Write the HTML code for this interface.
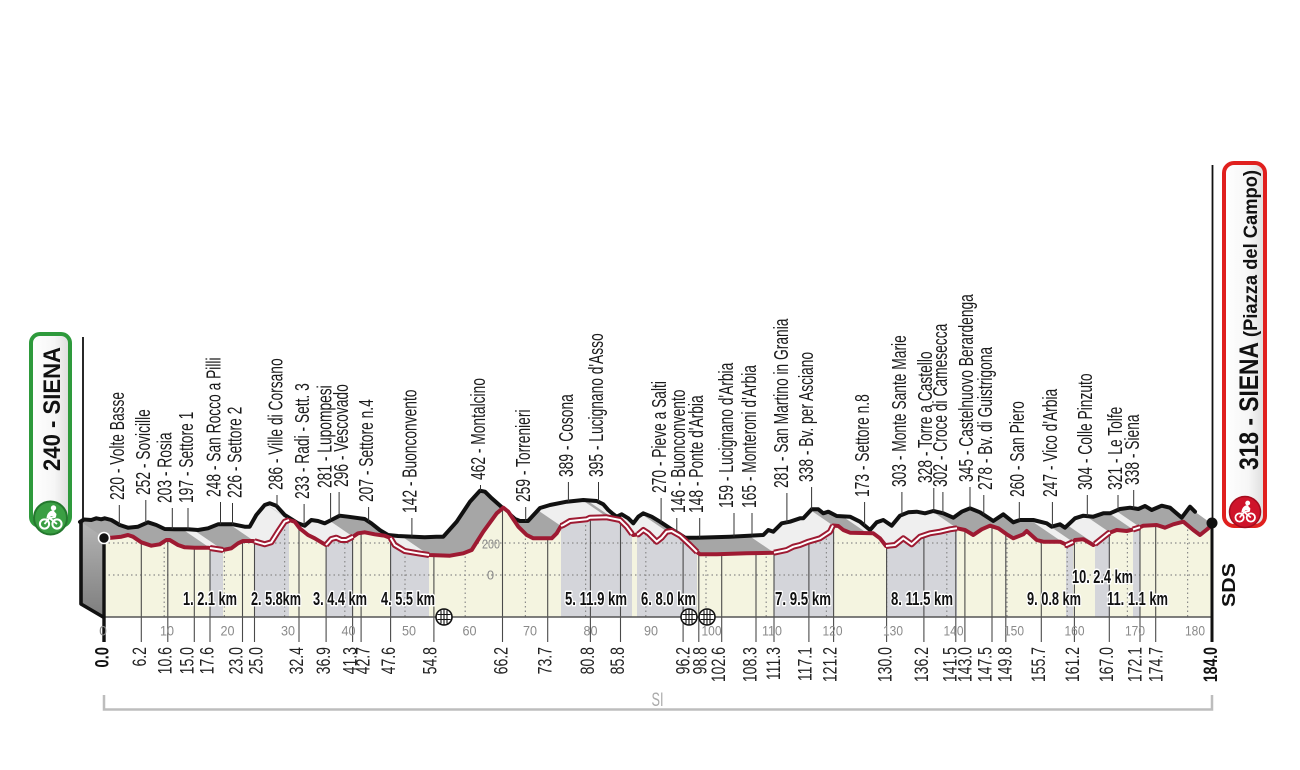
<!DOCTYPE html>
<html>
<head>
<meta charset="utf-8">
<style>
html,body{margin:0;padding:0;background:#fff;}
svg{display:block;}
text{font-family:"Liberation Sans",Arial,sans-serif;}
</style>
</head>
<body>
<svg width="1300" height="770" viewBox="0 0 1300 770" xmlns="http://www.w3.org/2000/svg">
<defs>
  <clipPath id="plotclip">
    <polygon points="104,537.7 111.3,537.7 121.3,536.7 128,535 133,536.7 141.3,542.3 151.3,545.7 159.7,544.3 166.3,540 169.7,540 178,545 184.7,547.3 194.7,547.7 208,547.7 210,548 223,550 231.3,548.3 238,543.3 243,541 253,541 254.5,541.3 264.7,544.3 271.3,542.3 278,531.7 284.7,521.7 289,520 294.7,521.7 299.7,528.3 308,535 314.7,538.3 323,543.3 326,545 331.3,539 336.3,537.7 341.3,540 346.3,540 353,536.7 358,533.3 364.7,532.3 374.7,534.3 384.7,535.7 390.6,538 394.7,545 404.7,551 418,553.3 429,555 450,555.7 463.3,553.3 471.7,550 483.3,531.7 496.7,513.3 503.3,507.7 508.3,511.7 518.3,526.7 526.7,535 533.3,538.3 551.7,538.3 556.7,533.3 561,526 563.3,525 570,521 586.7,519.3 590,517.7 606.7,517.3 620,520 626.7,526.7 632,534 633.3,535 637,534.5 638.3,534.3 643.3,530 648.3,533.3 656.7,541.7 661.7,537.7 666.7,531.7 671.7,531 680,535.7 690,545 697,552 700,554.3 716.7,554.3 746.7,553.3 774,552.7 786.7,550 793.3,546.7 800,545 808.3,541.7 820,538.3 830,531.7 833,525.5 838.3,526 843.3,530 850,532.7 873.3,533.3 880,538.3 886,546 895,545 903.3,538.3 911.7,544.3 920,536.7 930,533.3 940,531.7 950,529.3 957,528.3 965,530 973.3,535 981.7,529.3 990,525.7 998.3,528.3 1006.7,534.3 1013.3,538.3 1023.3,534.3 1026.7,531 1036.7,540 1043.3,541.7 1060,541.7 1066,544.5 1066.7,545 1073,542 1075,540 1083.3,539.3 1093.3,545 1095,544 1100,540 1108.3,533.3 1110,532.6 1116.7,530 1126.7,531 1133,529.5 1136.7,528.3 1140,527.2 1143.3,525.7 1156.7,525 1165,527.7 1173.3,524.3 1183.3,521.7 1193.3,530 1200,535 1208.3,528.3 1212,524 1212,617 104,617"/>
  </clipPath>
  <clipPath id="markclip">
    <polygon points="104,537.7 111.3,537.7 121.3,536.7 128,535 133,536.7 141.3,542.3 151.3,545.7 159.7,544.3 166.3,540 169.7,540 178,545 184.7,547.3 194.7,547.7 208,547.7 210,548 223,550 231.3,548.3 238,543.3 243,541 253,541 254.5,541.3 264.7,544.3 271.3,542.3 278,531.7 284.7,521.7 289,520 294.7,521.7 299.7,528.3 308,535 314.7,538.3 323,543.3 326,545 331.3,539 336.3,537.7 341.3,540 346.3,540 353,536.7 358,533.3 364.7,532.3 374.7,534.3 384.7,535.7 390.6,538 394.7,545 404.7,551 418,553.3 429,555 450,555.7 463.3,553.3 471.7,550 483.3,531.7 496.7,513.3 503.3,507.7 508.3,511.7 518.3,526.7 526.7,535 533.3,538.3 551.7,538.3 556.7,533.3 561,526 563.3,525 570,521 586.7,519.3 590,517.7 606.7,517.3 620,520 626.7,526.7 632,534 633.3,535 637,534.5 638.3,534.3 643.3,530 648.3,533.3 656.7,541.7 661.7,537.7 666.7,531.7 671.7,531 680,535.7 690,545 697,552 700,554.3 716.7,554.3 746.7,553.3 774,552.7 786.7,550 793.3,546.7 800,545 808.3,541.7 820,538.3 830,531.7 833,525.5 838.3,526 843.3,530 850,532.7 873.3,533.3 880,538.3 886,546 895,545 903.3,538.3 911.7,544.3 920,536.7 930,533.3 940,531.7 950,529.3 957,528.3 965,530 973.3,535 981.7,529.3 990,525.7 998.3,528.3 1006.7,534.3 1013.3,538.3 1023.3,534.3 1026.7,531 1036.7,540 1043.3,541.7 1060,541.7 1066,544.5 1066.7,545 1073,542 1075,540 1083.3,539.3 1093.3,545 1095,544 1100,540 1108.3,533.3 1110,532.6 1116.7,530 1126.7,531 1133,529.5 1136.7,528.3 1140,527.2 1143.3,525.7 1156.7,525 1165,527.7 1173.3,524.3 1183.3,521.7 1193.3,530 1200,535 1208.3,528.3 1212,524 1212,617 104,617"/>
    <rect x="100" y="616" width="1120" height="26"/>
  </clipPath>
  <clipPath id="surfclip">
    <polygon points="80,522 84,519.5 91.3,520 96.3,518.3 101.3,519.3 104.7,518.3 111.3,520 119.7,525 128,527.7 138,526.7 148,522.3 156.3,525 164.7,529 174.7,529.3 188,529.3 198,530 208,528.3 218,524.3 233,524.3 244.7,526.7 249.7,526.7 256.3,515 264.7,505 269.7,503.3 276.3,505.7 284.7,515 298,523.3 304.7,525.7 311.3,520 318,521 324.7,523.3 331.3,520 339.7,515.7 348,516.7 364.7,519 371.3,523.3 379.7,530 388,535 398,536 424.7,537.3 436.3,536.7 443.3,536.7 456.7,521.7 470,501.7 480,490.7 485,491.7 491.7,498.3 505,510 515,519 520,521 528,521 540,508 550,505 566.7,501.7 583.3,500 596.7,501 603.3,504.3 608.3,510 613,514 616.7,516.7 621.7,514.3 628.3,518.3 633.3,523.3 638.3,516.7 643.3,513.3 651.7,516.7 660,521.7 670,528.3 678.3,533.3 685,537.7 696.7,537.7 730,536.7 763.3,535 768.3,530 773.3,531.7 781.7,523.3 790,521.7 800,518.3 803.3,518.3 811.7,509.3 818.3,509.3 823.3,513.3 828.3,511.7 836.7,516 850,516.7 860,521.7 870,530 876.7,522.3 883.3,520 891.7,525.7 900,515.7 908.3,512.3 916.7,511.7 925,513.3 933.3,511 943.3,513.3 953.3,517.7 961.7,511.7 970,508.3 980,512.3 993.3,521 1003.3,514.3 1013.3,522.3 1020,520 1033.3,520 1046.7,523.3 1051.7,526.7 1060,524.3 1065,527.7 1075,518.3 1083.3,515.7 1093.3,516.7 1103.3,513.3 1110,513.3 1120,509 1130,507.7 1138.3,509 1145,506 1151.7,510 1161.7,505.7 1170,507.7 1181.7,517.7 1190,506.7 1195,511.7 1212,524 1212,617 104,617 81,604"/>
  </clipPath>
  <linearGradient id="face" x1="0" y1="0" x2="0" y2="1">
    <stop offset="0" stop-color="#b4b4b4"/>
    <stop offset="1" stop-color="#7e7e7e"/>
  </linearGradient>
  <linearGradient id="boxg" x1="0" y1="0" x2="1" y2="0">
    <stop offset="0" stop-color="#ffffff"/>
    <stop offset="0.6" stop-color="#f6f6f6"/>
    <stop offset="1" stop-color="#dcdcdc"/>
  </linearGradient>
  <g id="bike">
    <circle cx="-6" cy="5" r="4.6" fill="none" stroke="#fff" stroke-width="2"/>
    <circle cx="6.5" cy="5" r="4.6" fill="none" stroke="#fff" stroke-width="2"/>
    <path d="M-6,5 L-1,-1 L6.5,5 M-1,-1 L5,-2" fill="none" stroke="#fff" stroke-width="1.8"/>
    <path d="M-4,0 C-4,-6 0,-9 3,-8.5 L6,-5 L5.5,-2 L1,-3 Z" fill="#fff"/>
    <circle cx="3" cy="-11" r="2.7" fill="#fff"/>
  </g>
  <g id="rail">
    <circle r="8" fill="#fff" stroke="#111" stroke-width="1.6"/>
    <path d="M-3,-6.5V6.5M0,-7.5V7.5M3,-6.5V6.5M-6.5,-2.5H6.5M-6.5,2.5H6.5" stroke="#111" stroke-width="1.1"/>
  </g>
</defs>

<!-- surface (3D top) -->
<polygon fill="#a6a6a6" points="80,522 84,519.5 91.3,520 96.3,518.3 101.3,519.3 104.7,518.3 111.3,520 119.7,525 128,527.7 138,526.7 148,522.3 156.3,525 164.7,529 174.7,529.3 188,529.3 198,530 208,528.3 218,524.3 233,524.3 244.7,526.7 249.7,526.7 256.3,515 264.7,505 269.7,503.3 276.3,505.7 284.7,515 298,523.3 304.7,525.7 311.3,520 318,521 324.7,523.3 331.3,520 339.7,515.7 348,516.7 364.7,519 371.3,523.3 379.7,530 388,535 398,536 424.7,537.3 436.3,536.7 443.3,536.7 456.7,521.7 470,501.7 480,490.7 485,491.7 491.7,498.3 505,510 515,519 520,521 528,521 540,508 550,505 566.7,501.7 583.3,500 596.7,501 603.3,504.3 608.3,510 613,514 616.7,516.7 621.7,514.3 628.3,518.3 633.3,523.3 638.3,516.7 643.3,513.3 651.7,516.7 660,521.7 670,528.3 678.3,533.3 685,537.7 696.7,537.7 730,536.7 763.3,535 768.3,530 773.3,531.7 781.7,523.3 790,521.7 800,518.3 803.3,518.3 811.7,509.3 818.3,509.3 823.3,513.3 828.3,511.7 836.7,516 850,516.7 860,521.7 870,530 876.7,522.3 883.3,520 891.7,525.7 900,515.7 908.3,512.3 916.7,511.7 925,513.3 933.3,511 943.3,513.3 953.3,517.7 961.7,511.7 970,508.3 980,512.3 993.3,521 1003.3,514.3 1013.3,522.3 1020,520 1033.3,520 1046.7,523.3 1051.7,526.7 1060,524.3 1065,527.7 1075,518.3 1083.3,515.7 1093.3,516.7 1103.3,513.3 1110,513.3 1120,509 1130,507.7 1138.3,509 1145,506 1151.7,510 1161.7,505.7 1170,507.7 1181.7,517.7 1190,506.7 1195,511.7 1212,524 1212,617 104,617 81,604"/>
<g clip-path="url(#surfclip)" fill="#efefef">
  <polygon points="254,578 267,580 157,505 144,503"/>
  <polygon points="298.5,571.3 333,550 223,475 188.5,496.3"/>
  <polygon points="370,575 397,566.7 287,491.7 260,500"/>
  <polygon points="434.6,568 473,585 363,510 324.6,493"/>
  <polygon points="605,556 676,564 566,489 495,481"/>
  <polygon points="681,564.5 741,582 631,507 571,489.5"/>
  <polygon points="818,582.7 877,555.5 767,480.5 708,507.7"/>
  <polygon points="930,576 1001,558.3 891,483.3 820,501"/>
  <polygon points="1110,574.5 1117,572 1007,497 1000,499.5"/>
  <polygon points="1139,574 1154,562.6 1044,487.6 1029,499"/>
  <polygon points="1177,559.5 1184,557.2 1074,482.2 1067,484.5"/>
</g>
<!-- black ridge line -->
<polyline fill="none" stroke="#111" stroke-width="4" stroke-linejoin="round" stroke-linecap="round" points="80,522 84,519.5 91.3,520 96.3,518.3 101.3,519.3 104.7,518.3 111.3,520 119.7,525 128,527.7 138,526.7 148,522.3 156.3,525 164.7,529 174.7,529.3 188,529.3 198,530 208,528.3 218,524.3 233,524.3 244.7,526.7 249.7,526.7 256.3,515 264.7,505 269.7,503.3 276.3,505.7 284.7,515 298,523.3 304.7,525.7 311.3,520 318,521 324.7,523.3 331.3,520 339.7,515.7 348,516.7 364.7,519 371.3,523.3 379.7,530 388,535 398,536 424.7,537.3 436.3,536.7 443.3,536.7 456.7,521.7 470,501.7 480,490.7 485,491.7 491.7,498.3 505,510 515,519 520,521 528,521 540,508 550,505 566.7,501.7 583.3,500 596.7,501 603.3,504.3 608.3,510 613,514 616.7,516.7 621.7,514.3 628.3,518.3 633.3,523.3 638.3,516.7 643.3,513.3 651.7,516.7 660,521.7 670,528.3 678.3,533.3 685,537.7 696.7,537.7 730,536.7 763.3,535 768.3,530 773.3,531.7 781.7,523.3 790,521.7 800,518.3 803.3,518.3 811.7,509.3 818.3,509.3 823.3,513.3 828.3,511.7 836.7,516 850,516.7 860,521.7 870,530 876.7,522.3 883.3,520 891.7,525.7 900,515.7 908.3,512.3 916.7,511.7 925,513.3 933.3,511 943.3,513.3 953.3,517.7 961.7,511.7 970,508.3 980,512.3 993.3,521 1003.3,514.3 1013.3,522.3 1020,520 1033.3,520 1046.7,523.3 1051.7,526.7 1060,524.3 1065,527.7 1075,518.3 1083.3,515.7 1093.3,516.7 1103.3,513.3 1110,513.3 1120,509 1130,507.7 1138.3,509 1145,506 1151.7,510 1161.7,505.7 1170,507.7 1181.7,517.7 1190,506.7 1195,511.7"/>

<!-- plot area -->
<rect x="100" y="480" width="1115" height="140" fill="#f4f4e0" clip-path="url(#plotclip)"/>
<g clip-path="url(#plotclip)" fill="#d4d5da">
  <rect x="210" y="480" width="13" height="140"/>
  <rect x="254.5" y="480" width="34.5" height="140"/>
  <rect x="326" y="480" width="27" height="140"/>
  <rect x="390.6" y="480" width="38.4" height="140"/>
  <rect x="561" y="480" width="71" height="140"/>
  <rect x="637" y="480" width="60" height="140"/>
  <rect x="774" y="480" width="59" height="140"/>
  <rect x="886" y="480" width="71" height="140"/>
  <rect x="1066" y="480" width="7" height="140"/>
  <rect x="1095" y="480" width="15" height="140"/>
  <rect x="1133" y="480" width="7" height="140"/>
</g>
<!-- dotted grid -->
<g clip-path="url(#plotclip)" stroke="#8a8a8a" stroke-width="1.2" stroke-dasharray="1.5 3" fill="none">
  <path d="M104,543H1212M104,575H1212"/>
  <path d="M164.2,480V617M224.4,480V617M284.6,480V617M344.8,480V617M405,480V617M465.2,480V617M525.4,480V617M585.6,480V617M645.8,480V617M706,480V617M766.2,480V617M826.4,480V617M886.6,480V617M946.8,480V617M1007,480V617M1067.2,480V617M1127.4,480V617M1187.6,480V617"/>
</g>
<text x="491" y="548.5" font-size="13" fill="#888" text-anchor="middle" textLength="18" lengthAdjust="spacingAndGlyphs">200</text>
<text x="490.5" y="579.5" font-size="13" fill="#888" text-anchor="middle">0</text>
<!-- marker lines -->
<g clip-path="url(#markclip)" stroke="#4a4a4a" stroke-width="1.1">
  <path d="M141.3,480V642M167.8,480V642M194.3,480V642M210,480V642M242.5,480V642M254.5,480V642M299,480V642M326.1,480V642M352.6,480V642M361.1,480V642M390.6,480V642M433.9,480V642M502.5,480V642M547.7,480V642M590.4,480V642M620.5,480V642M683.1,480V642M698.8,480V642M721.7,480V642M756,480V642M774,480V642M808.9,480V642M833.6,480V642M886.6,480V642M923.9,480V642M955.8,480V642M964.9,480V642M992,480V642M1005.8,480V642M1041.3,480V642M1074.4,480V642M1109.3,480V642M1140,480V642M1155.7,480V642"/>
</g>
<path d="M104,617H1212" stroke="#555" stroke-width="1.5"/>

<!-- red profile -->
<polyline fill="none" stroke="#9e1a32" stroke-width="4" stroke-linejoin="round" stroke-linecap="round" points="104,537.7 111.3,537.7 121.3,536.7 128,535 133,536.7 141.3,542.3 151.3,545.7 159.7,544.3 166.3,540 169.7,540 178,545 184.7,547.3 194.7,547.7 208,547.7 210,548 223,550 231.3,548.3 238,543.3 243,541 253,541 254.5,541.3 264.7,544.3 271.3,542.3 278,531.7 284.7,521.7 289,520 294.7,521.7 299.7,528.3 308,535 314.7,538.3 323,543.3 326,545 331.3,539 336.3,537.7 341.3,540 346.3,540 353,536.7 358,533.3 364.7,532.3 374.7,534.3 384.7,535.7 390.6,538 394.7,545 404.7,551 418,553.3 429,555 450,555.7 463.3,553.3 471.7,550 483.3,531.7 496.7,513.3 503.3,507.7 508.3,511.7 518.3,526.7 526.7,535 533.3,538.3 551.7,538.3 556.7,533.3 561,526 563.3,525 570,521 586.7,519.3 590,517.7 606.7,517.3 620,520 626.7,526.7 632,534 633.3,535 637,534.5 638.3,534.3 643.3,530 648.3,533.3 656.7,541.7 661.7,537.7 666.7,531.7 671.7,531 680,535.7 690,545 697,552 700,554.3 716.7,554.3 746.7,553.3 774,552.7 786.7,550 793.3,546.7 800,545 808.3,541.7 820,538.3 830,531.7 833,525.5 838.3,526 843.3,530 850,532.7 873.3,533.3 880,538.3 886,546 895,545 903.3,538.3 911.7,544.3 920,536.7 930,533.3 940,531.7 950,529.3 957,528.3 965,530 973.3,535 981.7,529.3 990,525.7 998.3,528.3 1006.7,534.3 1013.3,538.3 1023.3,534.3 1026.7,531 1036.7,540 1043.3,541.7 1060,541.7 1066,544.5 1066.7,545 1073,542 1075,540 1083.3,539.3 1093.3,545 1095,544 1100,540 1108.3,533.3 1110,532.6 1116.7,530 1126.7,531 1133,529.5 1136.7,528.3 1140,527.2 1143.3,525.7 1156.7,525 1165,527.7 1173.3,524.3 1183.3,521.7 1193.3,530 1200,535 1208.3,528.3 1212,524"/>
<g fill="none" stroke="#9e1a32" stroke-width="6" stroke-linejoin="round">
  <polyline points="210,548 223,550"/>
  <polyline points="254.5,541.3 264.7,544.3 271.3,542.3 278,531.7 284.7,521.7 289,520"/>
  <polyline points="326,545 331.3,539 336.3,537.7 341.3,540 346.3,540 353,536.7"/>
  <polyline points="390.6,538 394.7,545 404.7,551 418,553.3 429,555"/>
  <polyline points="561,526 563.3,525 570,521 586.7,519.3 590,517.7 606.7,517.3 620,520 626.7,526.7 632,534"/>
  <polyline points="637,534.5 638.3,534.3 643.3,530 648.3,533.3 656.7,541.7 661.7,537.7 666.7,531.7 671.7,531 680,535.7 690,545 697,552"/>
  <polyline points="774,552.7 786.7,550 793.3,546.7 800,545 808.3,541.7 820,538.3 830,531.7 833,525.5"/>
  <polyline points="886,546 895,545 903.3,538.3 911.7,544.3 920,536.7 930,533.3 940,531.7 950,529.3 957,528.3"/>
  <polyline points="1066,544.5 1066.7,545 1073,542"/>
  <polyline points="1095,544 1100,540 1108.3,533.3 1110,532.6"/>
  <polyline points="1133,529.5 1136.7,528.3 1140,527.2"/>
</g>
<g fill="none" stroke="#ffffff" stroke-width="2" stroke-linejoin="round">
  <polyline points="210,548 223,550"/>
  <polyline points="254.5,541.3 264.7,544.3 271.3,542.3 278,531.7 284.7,521.7 289,520"/>
  <polyline points="326,545 331.3,539 336.3,537.7 341.3,540 346.3,540 353,536.7"/>
  <polyline points="390.6,538 394.7,545 404.7,551 418,553.3 429,555"/>
  <polyline points="561,526 563.3,525 570,521 586.7,519.3 590,517.7 606.7,517.3 620,520 626.7,526.7 632,534"/>
  <polyline points="637,534.5 638.3,534.3 643.3,530 648.3,533.3 656.7,541.7 661.7,537.7 666.7,531.7 671.7,531 680,535.7 690,545 697,552"/>
  <polyline points="774,552.7 786.7,550 793.3,546.7 800,545 808.3,541.7 820,538.3 830,531.7 833,525.5"/>
  <polyline points="886,546 895,545 903.3,538.3 911.7,544.3 920,536.7 930,533.3 940,531.7 950,529.3 957,528.3"/>
  <polyline points="1066,544.5 1066.7,545 1073,542"/>
  <polyline points="1095,544 1100,540 1108.3,533.3 1110,532.6"/>
  <polyline points="1133,529.5 1136.7,528.3 1140,527.2"/>
</g>

<!-- 3D left face block -->
<polygon points="81,522 104,537.5 104,617 81,604" fill="url(#face)"/>
<path d="M81,521 L81,604 L104,617.5" fill="none" stroke="#111" stroke-width="3.6" stroke-linejoin="round"/>
<path d="M104,537 V642" stroke="#111" stroke-width="3.4"/>
<path d="M83,337 V521" stroke="#111" stroke-width="1.8"/>
<path d="M1212.5,165 V523" stroke="#111" stroke-width="1.8"/>
<path d="M1212,523 V642" stroke="#111" stroke-width="3"/>
<circle cx="104" cy="538" r="5.5" fill="#111" stroke="#fff" stroke-width="1.6"/>
<circle cx="1212" cy="523" r="5.5" fill="#111"/>

<!-- railway crossings -->
<use href="#rail" transform="translate(444,617)"/>
<use href="#rail" transform="translate(689,617)"/>
<use href="#rail" transform="translate(707,617)"/>

<!-- sector labels -->
<g font-size="18" font-weight="bold" fill="#111" stroke="#fff" stroke-width="3" paint-order="stroke" stroke-linejoin="round">
  <text x="183" y="605" textLength="54" lengthAdjust="spacingAndGlyphs">1. 2.1 km</text>
  <text x="251" y="605" textLength="50" lengthAdjust="spacingAndGlyphs">2. 5.8km</text>
  <text x="313" y="605" textLength="54" lengthAdjust="spacingAndGlyphs">3. 4.4 km</text>
  <text x="381" y="605" textLength="54" lengthAdjust="spacingAndGlyphs">4. 5.5 km</text>
  <text x="565" y="605" textLength="62" lengthAdjust="spacingAndGlyphs">5. 11.9 km</text>
  <text x="641" y="605" textLength="55" lengthAdjust="spacingAndGlyphs">6. 8.0 km</text>
  <text x="775" y="605" textLength="56" lengthAdjust="spacingAndGlyphs">7. 9.5 km</text>
  <text x="891" y="605" textLength="62" lengthAdjust="spacingAndGlyphs">8. 11.5 km</text>
  <text x="1027" y="605" textLength="54" lengthAdjust="spacingAndGlyphs">9. 0.8 km</text>
  <text x="1072" y="583" textLength="61" lengthAdjust="spacingAndGlyphs">10. 2.4 km</text>
  <text x="1107" y="605" textLength="61" lengthAdjust="spacingAndGlyphs">11. 1.1 km</text>
</g>

<!-- axis km numbers -->
<g font-size="14" fill="#8a8a8a" text-anchor="middle">
  <text x="103" y="635.5">0</text>
  <text x="167" y="635.5" textLength="14" lengthAdjust="spacingAndGlyphs">10</text>
  <text x="227.5" y="635.5" textLength="14" lengthAdjust="spacingAndGlyphs">20</text>
  <text x="288" y="635.5" textLength="14" lengthAdjust="spacingAndGlyphs">30</text>
  <text x="348.5" y="635.5" textLength="14" lengthAdjust="spacingAndGlyphs">40</text>
  <text x="409" y="635.5" textLength="14" lengthAdjust="spacingAndGlyphs">50</text>
  <text x="469.5" y="635.5" textLength="14" lengthAdjust="spacingAndGlyphs">60</text>
  <text x="530" y="635.5" textLength="14" lengthAdjust="spacingAndGlyphs">70</text>
  <text x="590.5" y="635.5" textLength="14" lengthAdjust="spacingAndGlyphs">80</text>
  <text x="651" y="635.5" textLength="14" lengthAdjust="spacingAndGlyphs">90</text>
  <text x="711.5" y="635.5" textLength="20" lengthAdjust="spacingAndGlyphs">100</text>
  <text x="772" y="635.5" textLength="20" lengthAdjust="spacingAndGlyphs">110</text>
  <text x="832.5" y="635.5" textLength="20" lengthAdjust="spacingAndGlyphs">120</text>
  <text x="893" y="635.5" textLength="20" lengthAdjust="spacingAndGlyphs">130</text>
  <text x="953.5" y="635.5" textLength="20" lengthAdjust="spacingAndGlyphs">140</text>
  <text x="1014" y="635.5" textLength="20" lengthAdjust="spacingAndGlyphs">150</text>
  <text x="1074.5" y="635.5" textLength="20" lengthAdjust="spacingAndGlyphs">160</text>
  <text x="1135" y="635.5" textLength="20" lengthAdjust="spacingAndGlyphs">170</text>
  <text x="1195" y="635.5" textLength="20" lengthAdjust="spacingAndGlyphs">180</text>
</g>

<!-- bottom km labels -->
<g font-size="19" fill="#222" text-anchor="end">
  <text transform="translate(146,647) rotate(-90) scale(0.74,1)">6.2</text>
  <text transform="translate(171.7,647) rotate(-90) scale(0.74,1)">10.6</text>
  <text transform="translate(193.3,647) rotate(-90) scale(0.74,1)">15.0</text>
  <text transform="translate(213.3,647) rotate(-90) scale(0.74,1)">17.6</text>
  <text transform="translate(242.7,647) rotate(-90) scale(0.74,1)">23.0</text>
  <text transform="translate(262.7,647) rotate(-90) scale(0.74,1)">25.0</text>
  <text transform="translate(303,647) rotate(-90) scale(0.74,1)">32.4</text>
  <text transform="translate(330,647) rotate(-90) scale(0.74,1)">36.9</text>
  <text transform="translate(356.7,647) rotate(-90) scale(0.74,1)">41.3</text>
  <text transform="translate(369.3,647) rotate(-90) scale(0.74,1)">42.7</text>
  <text transform="translate(395,647) rotate(-90) scale(0.74,1)">47.6</text>
  <text transform="translate(436.7,647) rotate(-90) scale(0.74,1)">54.8</text>
  <text transform="translate(507.3,647) rotate(-90) scale(0.74,1)">66.2</text>
  <text transform="translate(551.7,647) rotate(-90) scale(0.74,1)">73.7</text>
  <text transform="translate(594,647) rotate(-90) scale(0.74,1)">80.8</text>
  <text transform="translate(624,647) rotate(-90) scale(0.74,1)">85.8</text>
  <text transform="translate(689.3,647) rotate(-90) scale(0.74,1)">96.2</text>
  <text transform="translate(706.7,647) rotate(-90) scale(0.74,1)">98.8</text>
  <text transform="translate(725,647) rotate(-90) scale(0.74,1)">102.6</text>
  <text transform="translate(756.7,647) rotate(-90) scale(0.74,1)">108.3</text>
  <text transform="translate(780,647) rotate(-90) scale(0.74,1)">111.3</text>
  <text transform="translate(811.7,647) rotate(-90) scale(0.74,1)">117.1</text>
  <text transform="translate(836.7,647) rotate(-90) scale(0.74,1)">121.2</text>
  <text transform="translate(891.7,647) rotate(-90) scale(0.74,1)">130.0</text>
  <text transform="translate(928,647) rotate(-90) scale(0.74,1)">136.2</text>
  <text transform="translate(956.7,647) rotate(-90) scale(0.74,1)">141.5</text>
  <text transform="translate(971.7,647) rotate(-90) scale(0.74,1)">143.0</text>
  <text transform="translate(991.7,647) rotate(-90) scale(0.74,1)">147.5</text>
  <text transform="translate(1011.7,647) rotate(-90) scale(0.74,1)">149.8</text>
  <text transform="translate(1045,647) rotate(-90) scale(0.74,1)">155.7</text>
  <text transform="translate(1079,647) rotate(-90) scale(0.74,1)">161.2</text>
  <text transform="translate(1113,647) rotate(-90) scale(0.74,1)">167.0</text>
  <text transform="translate(1141.7,647) rotate(-90) scale(0.74,1)">172.1</text>
  <text transform="translate(1162.7,647) rotate(-90) scale(0.74,1)">174.7</text>
  <text transform="translate(108.5,647) rotate(-90) scale(0.78,1)" font-weight="bold" fill="#111">0.0</text>
  <text transform="translate(1217,647) rotate(-90) scale(0.74,1)" font-weight="bold" fill="#111">184.0</text>
</g>

<!-- SI bracket -->
<path d="M104,695 V709.5 H1212 V695" fill="none" stroke="#bdbdbd" stroke-width="2.5"/>
<text x="657.5" y="706" font-size="19" fill="#aaa" text-anchor="middle" textLength="12" lengthAdjust="spacingAndGlyphs">SI</text>

<!-- top leader lines -->
<g stroke="#333" stroke-width="1">
  <path d="M119.3,505V525M145.8,500V523M172.3,508V529M188,508V529.3M220.5,502V524.3M232.5,503V524.3M277,495V506M304.1,504V525.5M330.6,493V520.3M339.1,492V515.7M368.6,507V521.5M411.9,518V536.6M480.5,485V490.8M525.7,507V521M568.4,482V501.5M598.5,482V501.5M661.1,498V522.5M676.8,518V531.5M699.7,518V537.6M734,513V536.5M752,513V535.5M786.9,493V522.5M811.6,487V509.3M864.6,502V525.5M901.9,492V515M933.8,488V511M942.9,492V513.3M970,487V508.3M983.8,495V514.8M1019.3,502V520.2M1052.4,502V526.5M1087.3,495V516M1118,495V510M1133.7,490V508.3"/>
</g>

<!-- top labels -->
<g font-size="20" fill="#1a1a1a">
  <text transform="translate(124,500) rotate(-90) scale(0.69,1)">220 - Volte Basse</text>
  <text transform="translate(150,495) rotate(-90) scale(0.69,1)">252 - Sovicille</text>
  <text transform="translate(171.5,503) rotate(-90) scale(0.69,1)">203 - Rosia</text>
  <text transform="translate(193,503) rotate(-90) scale(0.69,1)">197 - Settore 1</text>
  <text transform="translate(220.5,497) rotate(-90) scale(0.69,1)">248 - San Rocco a Pilli</text>
  <text transform="translate(241.5,498) rotate(-90) scale(0.69,1)">226 - Settore 2</text>
  <text transform="translate(282.5,490) rotate(-90) scale(0.69,1)">286 - Ville di Corsano</text>
  <text transform="translate(309,499) rotate(-90) scale(0.69,1)">233 - Radi - Sett. 3</text>
  <text transform="translate(331.5,488) rotate(-90) scale(0.69,1)">281 - Lupompesi</text>
  <text transform="translate(348,487) rotate(-90) scale(0.69,1)">296 - Vescovado</text>
  <text transform="translate(373,502) rotate(-90) scale(0.69,1)">207 - Settore n.4</text>
  <text transform="translate(416.5,513) rotate(-90) scale(0.69,1)">142 - Buonconvento</text>
  <text transform="translate(485,480) rotate(-90) scale(0.69,1)">462 - Montalcino</text>
  <text transform="translate(530,502) rotate(-90) scale(0.69,1)">259 - Torrenieri</text>
  <text transform="translate(573,477) rotate(-90) scale(0.69,1)">389 - Cosona</text>
  <text transform="translate(603,477) rotate(-90) scale(0.69,1)">395 - Lucignano d'Asso</text>
  <text transform="translate(666,493) rotate(-90) scale(0.69,1)">270 - Pieve a Salti</text>
  <text transform="translate(685,513) rotate(-90) scale(0.69,1)">146 - Buonconvento</text>
  <text transform="translate(703,513) rotate(-90) scale(0.69,1)">148 - Ponte d'Arbia</text>
  <text transform="translate(733,508) rotate(-90) scale(0.69,1)">159 - Lucignano d'Arbia</text>
  <text transform="translate(756,508) rotate(-90) scale(0.69,1)">165 - Monteroni d'Arbia</text>
  <text transform="translate(788,488) rotate(-90) scale(0.69,1)">281 - San Martino in Grania</text>
  <text transform="translate(813,482) rotate(-90) scale(0.69,1)">338 - Bv. per Asciano</text>
  <text transform="translate(869,497) rotate(-90) scale(0.69,1)">173 - Settore n.8</text>
  <text transform="translate(906,487) rotate(-90) scale(0.69,1)">303 - Monte Sante Marie</text>
  <text transform="translate(932,483) rotate(-90) scale(0.69,1)">328 - Torre a Castello</text>
  <text transform="translate(947,487) rotate(-90) scale(0.69,1)">302 - Croce di Camesecca</text>
  <text transform="translate(973,482) rotate(-90) scale(0.69,1)">345 - Castelnuovo Berardenga</text>
  <text transform="translate(992,490) rotate(-90) scale(0.69,1)">278 - Bv. di Guistrigona</text>
  <text transform="translate(1024,497) rotate(-90) scale(0.69,1)">260 - San Piero</text>
  <text transform="translate(1057,497) rotate(-90) scale(0.69,1)">247 - Vico d'Arbia</text>
  <text transform="translate(1092,490) rotate(-90) scale(0.69,1)">304 - Colle Pinzuto</text>
  <text transform="translate(1122,490) rotate(-90) scale(0.69,1)">321 - Le Tolfe</text>
  <text transform="translate(1139,485) rotate(-90) scale(0.69,1)">338 - Siena</text>
</g>

<!-- start label -->
<rect x="31" y="334" width="39" height="192" rx="9" ry="9" fill="url(#boxg)" stroke="#2e9a3c" stroke-width="4"/>
<text transform="translate(60,471) rotate(-90)" font-size="24" font-weight="bold" fill="#111" textLength="124" lengthAdjust="spacingAndGlyphs">240 - SIENA</text>
<circle cx="50.5" cy="518" r="16.5" fill="#3a9f43" stroke="#24782e" stroke-width="2"/>
<use href="#bike" transform="translate(50.5,519)"/>

<!-- finish label -->
<rect x="1224" y="163" width="41" height="363" rx="10" ry="10" fill="url(#boxg)" stroke="#e0201e" stroke-width="4"/>
<text transform="translate(1258,470) rotate(-90)" font-size="27" font-weight="bold" fill="#111" textLength="128" lengthAdjust="spacingAndGlyphs">318 - SIENA</text>
<text transform="translate(1257,337) rotate(-90)" font-size="19" font-weight="bold" fill="#111" textLength="167" lengthAdjust="spacingAndGlyphs">(Piazza del Campo)</text>
<circle cx="1245" cy="512" r="15.5" fill="#cf142b" stroke="#a30d1f" stroke-width="1.5"/>
<use href="#bike" transform="translate(1245,513) scale(0.9)"/>

<!-- SDS logo -->
<text transform="translate(1235,607) rotate(-90)" font-size="18" font-weight="bold" fill="#111" textLength="44" lengthAdjust="spacingAndGlyphs">SDS</text>
</svg>
</body>
</html>
